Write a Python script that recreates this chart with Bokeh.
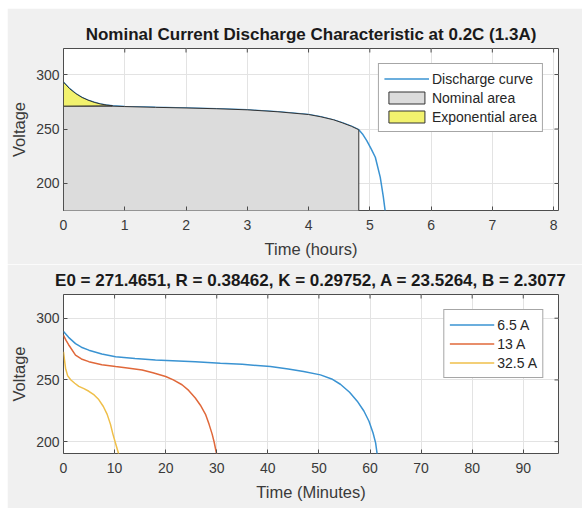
import math
from bokeh.plotting import figure
from bokeh.layouts import column
from bokeh.models import Range1d, Legend, LegendItem, FixedTicker
from bokeh.embed import file_html
from bokeh.resources import INLINE

# ---------------- data ----------------
top_title = "Nominal Current Discharge Characteristic at 0.2C (1.3A)"
bottom_title = "E0 = 271.4651, R = 0.38462, K = 0.29752, A = 23.5264, B = 2.3077"

# discharge curve at 1.3 A (hours, volts)
t_hours = [0, 0.1, 0.2, 0.3, 0.4, 0.5, 0.6, 0.7, 0.8, 1.0, 1.5, 2.0, 2.5, 3.0, 3.5,
           4.0, 4.2, 4.41, 4.55, 4.7, 4.82, 4.88, 4.95, 5.02, 5.09, 5.17, 5.22, 5.25]
v_hours = [293.0, 287.0, 282.5, 279.0, 276.5, 274.5, 273.0, 272.0, 271.3, 270.6, 269.9,
           269.3, 268.6, 267.6, 265.8, 263.3, 261.2, 258.4, 255.7, 252.5, 249.3, 245.5,
           239.4, 232.0, 224.1, 205.8, 188.0, 175.0]
nominal_level = 271.0      # top of nominal area
exp_end = 0.8              # end of exponential zone (hours)
nom_end = 4.82             # end of nominal zone (hours)

top_xticks = [0, 1, 2, 3, 4, 5, 6, 7, 8]
top_yticks = [200, 250, 300]

# discharge curves at several currents (minutes, volts)
t_65 = [0, 1, 2.35, 3.5, 4.96, 7.5, 10.2, 14, 18, 25.8, 30.7, 35, 40.5, 44, 47,
        50.3, 52.5, 54.2, 56, 57.5, 58.8, 59.8, 60.6, 61.1, 61.4]
v_65 = [289.3, 284.5, 279.4, 276.5, 274.1, 271.0, 268.8, 267.3, 266.1, 264.8, 263.5,
        262.6, 260.8, 258.8, 256.8, 254.1, 250.8, 246.5, 240.0, 232.8, 224.8, 216.5,
        207.0, 199.0, 190.0]
t_13 = [0, 0.5, 1, 2.35, 3.5, 4.96, 7.5, 10.2, 12.5, 15.4, 17.5, 20, 21.5, 23.2,
        24.5, 25.8, 26.8, 27.8, 28.5, 29.1, 29.5, 29.9, 30.1]
v_13 = [286.1, 282.0, 278.5, 270.1, 267.0, 264.8, 262.3, 260.8, 259.7, 258.1, 255.8,
        252.8, 250.0, 246.1, 241.5, 235.4, 229.5, 222.1, 214.0, 206.1, 199.5, 191.4,
        189.0]
t_325 = [0, 0.2, 0.4, 0.8, 1.4, 2.2, 3.0, 4.0, 4.96, 6.0, 6.9, 7.8, 8.55, 9.2,
         9.67, 10.2, 10.7, 10.85]
v_325 = [272.8, 266.0, 259.5, 253.5, 250.1, 247.3, 244.8, 242.9, 240.8, 237.8, 234.1,
         228.5, 222.1, 214.0, 206.1, 198.5, 191.4, 189.0]
currents = ["6.5 A", "13 A", "32.5 A"]

bottom_xticks = [0, 10, 20, 30, 40, 50, 60, 70, 80, 90]
bottom_yticks = [200, 250, 300]

# ---------------- style ----------------
FONT = "Liberation Sans"
BG = "#f0f0f0"
BOX = "#4d4d4d"
TICKTXT = "#3a3a3a"
GRID = "#e3e3e3"
BLUE = "#3a93d2"
ORANGE = "#e0683a"
YELLOW = "#efbf4a"


def style(p, xticks, yticks):
    p.outline_line_color = BOX
    p.outline_line_width = 1
    p.title.text_font = FONT
    p.title.text_font_size = "17px"
    p.title.text_font_style = "bold"
    p.title.text_color = "#1a1a1a"
    p.title.align = "center"
    p.title.standoff = 9
    for ax in p.xaxis + p.yaxis:
        ax.axis_line_color = None
        ax.major_tick_in = 4
        ax.major_tick_out = 0
        ax.major_tick_line_color = BOX
        ax.minor_tick_line_color = None
        ax.major_label_text_font = FONT
        ax.major_label_text_font_size = "14px"
        ax.major_label_text_color = TICKTXT
        ax.axis_label_text_font = FONT
        ax.axis_label_text_font_size = "16.5px"
        ax.axis_label_text_font_style = "normal"
        ax.axis_label_text_color = TICKTXT
    p.xaxis.ticker = FixedTicker(ticks=xticks)
    p.yaxis.ticker = FixedTicker(ticks=yticks)
    p.xaxis.major_label_standoff = 9
    p.xaxis.axis_label_standoff = 7
    p.yaxis.major_label_standoff = 4
    p.yaxis.axis_label_standoff = 5
    p.xgrid.ticker = FixedTicker(ticks=xticks)
    p.ygrid.ticker = FixedTicker(ticks=yticks)
    p.grid.grid_line_color = GRID
    # mirrored inward ticks on the top and right edges (box on)
    p.scatter(xticks, [p.y_range.end] * len(xticks), marker="dash", angle=math.pi / 2,
              size=8, line_color=BOX, line_width=1)
    p.scatter([p.x_range.end] * len(yticks), yticks, marker="dash",
              size=8, line_color=BOX, line_width=1)


# ---------------- top chart ----------------
p1 = figure(width=575, height=256, x_range=Range1d(0, 8.08), y_range=Range1d(175.2, 323.9),
            output_backend="svg", toolbar_location=None, title=top_title,
            min_border_left=56, min_border_right=24, min_border_top=40, min_border_bottom=54,
            background_fill_color="white", border_fill_color=BG,
            x_axis_label="Time (hours)", y_axis_label="Voltage")
p1.margin = (8, 0, 0, 7)
style(p1, top_xticks, top_yticks)

curve = p1.line(t_hours, v_hours, line_color=BLUE, line_width=1.5)

# nominal area polygon (under the curve, capped at the nominal level)
floor = p1.y_range.start - 5
nx = [0, 0, exp_end] + [t for t in t_hours if exp_end < t <= nom_end] + [nom_end]
ny = [floor, nominal_level, nominal_level] + \
     [v for t, v in zip(t_hours, v_hours) if exp_end < t <= nom_end] + [floor]
nom = p1.patch(nx, ny, fill_color="#dcdcdc", line_color="#333333", line_width=1)

# exponential area polygon (between curve and nominal level)
ex = [t for t in t_hours if t <= exp_end] + [0]
ey = [v for t, v in zip(t_hours, v_hours) if t <= exp_end] + [nominal_level]
expo = p1.patch(ex, ey, fill_color="#f2f26e", line_color="#333333", line_width=1)

leg1 = Legend(items=[LegendItem(label="Discharge curve", renderers=[curve]),
                     LegendItem(label="Nominal area", renderers=[nom]),
                     LegendItem(label="Exponential area", renderers=[expo])],
              location="top_right")
p1.add_layout(leg1, "center")

# ---------------- bottom chart ----------------
p2 = figure(width=575, height=244, x_range=Range1d(0, 96.9), y_range=Range1d(190.4, 319.2),
            output_backend="svg", toolbar_location=None, title=bottom_title,
            min_border_left=56, min_border_right=24, min_border_top=28, min_border_bottom=55,
            background_fill_color="white", border_fill_color=BG,
            x_axis_label="Time (Minutes)", y_axis_label="Voltage")
p2.margin = (0, 0, 0, 7)
style(p2, bottom_xticks, bottom_yticks)

r65 = p2.line(t_65, v_65, line_color=BLUE, line_width=1.5)
r13 = p2.line(t_13, v_13, line_color=ORANGE, line_width=1.5)
r325 = p2.line(t_325, v_325, line_color=YELLOW, line_width=1.5)
leg2 = Legend(items=[LegendItem(label=currents[0], renderers=[r65]),
                     LegendItem(label=currents[1], renderers=[r13]),
                     LegendItem(label=currents[2], renderers=[r325])],
              location="top_right")
p2.add_layout(leg2, "center")

for leg in (leg1, leg2):
    leg.margin = 15
    leg.padding = 5
    leg.spacing = 0
    leg.label_height = 19
    leg.glyph_height = 15
    leg.glyph_width = 45
    leg.label_standoff = 3
    leg.label_text_font = FONT
    leg.label_text_font_size = "14px"
    leg.label_text_color = "#262626"
    leg.border_line_color = BOX
    leg.border_line_width = 1
    leg.background_fill_color = "white"
    leg.background_fill_alpha = 1.0

layout = column(p1, p2, spacing=0)
layout.margin = 0
open("out.html", "w").write(file_html(layout, INLINE))
